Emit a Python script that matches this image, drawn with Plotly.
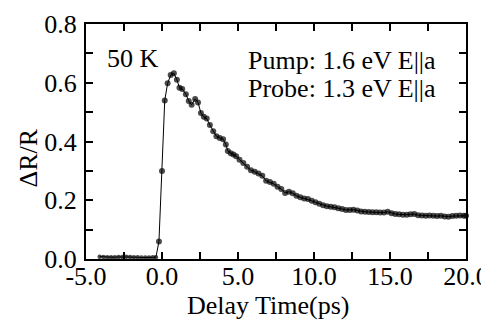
import plotly.graph_objects as go

# Delay time (ps) and dR/R values
base_t = [-4.1, -3.85, -3.6, -3.35, -3.1, -2.85, -2.6, -2.35, -2.1, -1.85, -1.6, -1.35, -1.1, -0.85, -0.6, -0.4]
base_r = [0.008, 0.007, 0.006, 0.006, 0.006, 0.007, 0.007, 0.008, 0.007, 0.006, 0.006, 0.005, 0.005, 0.005, 0.006, 0.006]

rise_t = [-0.2, 0.0, 0.18, 0.37, 0.57, 0.78, 0.98, 1.15, 1.33, 1.57, 1.76, 1.95, 2.18, 2.37, 2.56, 2.75,
          2.94, 3.15, 3.37, 3.58, 3.80, 4.02, 4.2, 4.33, 4.52, 4.70, 4.88]
rise_r = [0.06, 0.30, 0.54, 0.598, 0.626, 0.632, 0.610, 0.583, 0.579, 0.561, 0.538, 0.525, 0.545, 0.533, 0.497, 0.484,
          0.478, 0.456, 0.435, 0.418, 0.412, 0.408, 0.39, 0.368, 0.360, 0.356, 0.350]

tail_t = [5.1, 5.35, 5.6, 5.85, 6.1, 6.35, 6.6, 6.85, 7.1, 7.35, 7.6, 7.85, 8.1, 8.35, 8.6, 8.85,
          9.1, 9.35, 9.6, 9.85, 10.1, 10.35, 10.6, 10.85, 11.1, 11.35, 11.6, 11.85, 12.1, 12.35, 12.6, 12.85,
          13.1, 13.35, 13.6, 13.85, 14.1, 14.35, 14.6, 14.85, 15.1, 15.35, 15.6, 15.85, 16.1, 16.35, 16.6, 16.85,
          17.1, 17.35, 17.6, 17.85, 18.1, 18.35, 18.6, 18.85, 19.1, 19.35, 19.6, 19.85, 20.0]
tail_r = [0.338, 0.327, 0.314, 0.302, 0.297, 0.291, 0.283, 0.266, 0.262, 0.256, 0.246, 0.238, 0.225, 0.229, 0.224, 0.215,
          0.210, 0.206, 0.204, 0.198, 0.193, 0.188, 0.183, 0.180, 0.178, 0.176, 0.173, 0.170, 0.167, 0.167, 0.168, 0.165,
          0.162, 0.161, 0.160, 0.159, 0.159, 0.158, 0.158, 0.161, 0.156, 0.153, 0.152, 0.151, 0.151, 0.152, 0.153, 0.149,
          0.148, 0.147, 0.148, 0.147, 0.146, 0.147, 0.145, 0.144, 0.146, 0.147, 0.148, 0.147, 0.147]

x_ticks = [-5, 0, 5, 10, 15, 20]
x_tick_labels = ["-5.0", "0.0", "5.0", "10.0", "15.0", "20.0"]
y_ticks = [0, 0.2, 0.4, 0.6, 0.8]
y_tick_labels = ["0.0", "0.2", "0.4", "0.6", "0.8"]

t = base_t + rise_t + tail_t
r = base_r + rise_r + tail_r
sizes = [4.5 if v < -0.3 else 6 for v in t]

FONT = "Liberation Serif"
TXT = dict(family=FONT, size=26, color="black")

fig = go.Figure()
fig.add_trace(go.Scatter(
    x=t, y=r, mode="lines+markers",
    line=dict(color="black", width=1),
    marker=dict(color="black", size=sizes, line=dict(width=0)),
    showlegend=False, cliponaxis=False,
))

axis_common = dict(
    showline=True, linecolor="black", linewidth=2, mirror="allticks",
    ticks="inside", ticklen=7, tickwidth=1.5, tickcolor="black",
    showgrid=False, zeroline=False, automargin=False,
    tickfont=TXT,
)

fig.update_xaxes(
    range=[-5, 20], tickvals=x_ticks, ticktext=x_tick_labels,
    minor=dict(dtick=2.5, ticks="inside", ticklen=7, tickwidth=1.5, tickcolor="black", showgrid=False),
    ticklabelstandoff=-7,
    **axis_common,
)
fig.update_yaxes(
    range=[0, 0.8], tickvals=y_ticks, ticktext=y_tick_labels,
    minor=dict(dtick=0.1, ticks="inside", ticklen=7, tickwidth=1.5, tickcolor="black", showgrid=False),
    ticklabelstandoff=2,
    **axis_common,
)

fig.add_annotation(text="Delay Time(ps)", xref="paper", yref="paper", x=0.48, y=-0.196,
                   xanchor="center", yanchor="middle", showarrow=False, font=TXT)
fig.add_annotation(text="ΔR/R", xref="paper", yref="paper", x=-0.151, y=0.43,
                   xanchor="center", yanchor="middle",
                   textangle=-90, showarrow=False, font=TXT)
fig.add_annotation(text="50 K", xref="x", yref="y", x=-3.75, y=0.684, xanchor="left",
                   showarrow=False, font=TXT)
fig.add_annotation(text="Pump: 1.6 eV E||a", xref="x", yref="y", x=18.16, y=0.676, xanchor="right",
                   showarrow=False, font=TXT)
fig.add_annotation(text="Probe: 1.3 eV E||a", xref="x", yref="y", x=18.16, y=0.582, xanchor="right",
                   showarrow=False, font=TXT)

fig.update_layout(
    template="none",
    font=TXT,
    width=489, height=321,
    margin=dict(l=78, r=31, t=16, b=70),
    paper_bgcolor="white", plot_bgcolor="white",
)

fig.write_html("out.html")
